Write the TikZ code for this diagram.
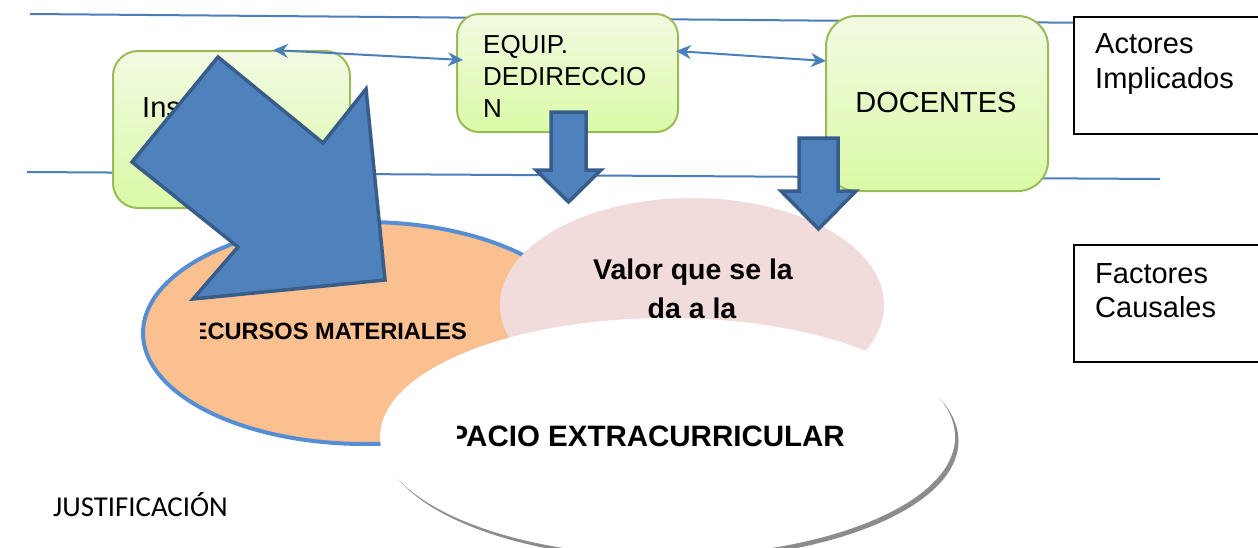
\documentclass[tikz,border=0pt]{standalone}
\usepackage{fontspec}
\setmainfont{Liberation Sans}
\newfontfamily\calib{Carlito}
\usetikzlibrary{arrows.meta,shapes.geometric}
\definecolor{gtop}{RGB}{242,250,226}
\definecolor{gbot}{RGB}{218,250,166}
\definecolor{gborder}{RGB}{155,187,89}
\definecolor{ablue}{RGB}{79,129,189}
\definecolor{ablueb}{RGB}{56,93,138}
\definecolor{lblue}{RGB}{74,126,187}
\definecolor{oran}{RGB}{250,192,144}
\definecolor{oranb}{RGB}{85,142,213}
\definecolor{pinkf}{RGB}{242,220,219}
\definecolor{shad}{RGB}{140,140,140}
\begin{document}
\begin{tikzpicture}[x=1pt,y=-1pt,
  gbox/.style={draw=gborder, line width=2pt, rounded corners=#1, top color=gtop, bottom color=gbot, inner sep=0pt},
  thinline/.style={draw=lblue, line width=2pt},
  dbl/.style={draw=lblue, line width=2pt, {Stealth[length=15pt,width=14pt,inset=5pt]}-{Stealth[length=15pt,width=14pt,inset=5pt]}},
  blk/.style={fill=ablue, draw=ablueb, line width=3.5pt, line join=miter},
  lbox/.style={draw=black, line width=2pt, fill=white, inner sep=0pt, anchor=north west},
  txt/.style={anchor=base west, inner sep=0pt, font=\fontsize{29pt}{34pt}\selectfont},
  eqt/.style={anchor=base west, inner sep=0pt, font=\fontsize{26pt}{32pt}\selectfont},
  bt/.style={inner sep=0pt, font=\bfseries\fontsize{28.5pt}{34pt}\selectfont}
]
\clip (0,0) rectangle (1258,547);
\fill[white] (0,0) rectangle (1258,547);

% horizontal guide lines
\coordinate (l1a) at (30,14);
\coordinate (l1b) at (1073,22.7);
\coordinate (l2a) at (27,172);
\coordinate (l2b) at (1160,179);
\draw[thinline] (l1a) -- (l1b);
\draw[thinline] (l2a) -- (l2b);

% green boxes
\node[gbox=25pt, minimum width=237pt, minimum height=157pt] (ins) at (231.5,129.5) {};
\node[gbox=22pt, minimum width=221pt, minimum height=118pt] (equip) at (567.5,73) {};
\node[gbox=30pt, minimum width=222pt, minimum height=175pt] (doc) at (937,103.5) {};
\node[txt] (inst) at (142,117) {Ins};
\node[eqt] (eq1) at (483,53) {EQUIP.};
\node[eqt] (eq2) at (483,85) {DEDIRECCIO};
\node[eqt] (eq3) at (483,117) {N};
\node[txt, anchor=base] (doct) at (936,112) {DOCENTES};

% label boxes
\node[lbox, minimum width=195pt, minimum height=117pt] (act) at (1073,16) {};
\node[txt] (act1) at (1095,53) {Actores};
\node[txt] (act2) at (1095,88) {Implicados};
\node[lbox, minimum width=195pt, minimum height=117pt] (fac) at (1073,244) {};
\node[txt] (fac1) at (1095,283) {Factores};
\node[txt] (fac2) at (1095,317) {Causales};

% double arrows
\draw[dbl] ([xshift=-78pt]ins.north east) -- ([xshift=7pt,yshift=13pt]equip.west);
\draw[dbl] ([xshift=-3pt,yshift=22pt]equip.east) -- ([xshift=1pt,yshift=42.5pt]doc.west);

% ellipses
\node[ellipse, fill=oran, draw=oranb, line width=4pt, minimum width=444pt, minimum height=222pt, inner sep=0pt] (rec) at (365,333) {};
\begin{scope}
  \clip (200,0) rectangle (700,547);
  \node[bt, anchor=base east, font=\bfseries\fontsize{23.6pt}{28pt}\selectfont] (rect) at (467,339) {RECURSOS MATERIALES};
\end{scope}
\node[ellipse, fill=pinkf, minimum width=384pt, minimum height=214pt, inner sep=0pt] (val) at (692,305) {};
\node[bt, anchor=base] (val1) at (693,279) {Valor que se la};
\node[bt, anchor=base] (val2) at (692,318) {da a la};
\fill[shad] (671,441) ellipse [x radius=287.5, y radius=119];
\node[ellipse, fill=white, minimum width=575pt, minimum height=238pt, inner sep=0pt] (esp) at (667.5,437) {};
\begin{scope}
  \clip (457,300) rectangle (960,547);
  \node[bt, anchor=base east, font=\bfseries\fontsize{29.5pt}{34pt}\selectfont] (espt) at (845,446) {ESPACIO EXTRACURRICULAR};
\end{scope}

% block arrows
\draw[blk] (551,112) -- (586,112) -- (586,170) -- (601,170) -- (568.5,202) -- (536,170) -- (551,170) -- cycle;
\draw[blk] (799,138) -- (838,138) -- (838,191) -- (856,191) -- (818.5,229) -- (781,191) -- (799,191) -- cycle;
\draw[blk] (218,57) -- (132,162) -- (238,247) -- (193,299) -- (385,280) -- (366,89) -- (323,143) -- cycle;

% footer text
\node[anchor=base west, inner sep=0pt, font=\calib\fontsize{28.8pt}{34pt}\selectfont] (just) at (53,516) {JUSTIFICACIÓN};
\end{tikzpicture}
\end{document}
